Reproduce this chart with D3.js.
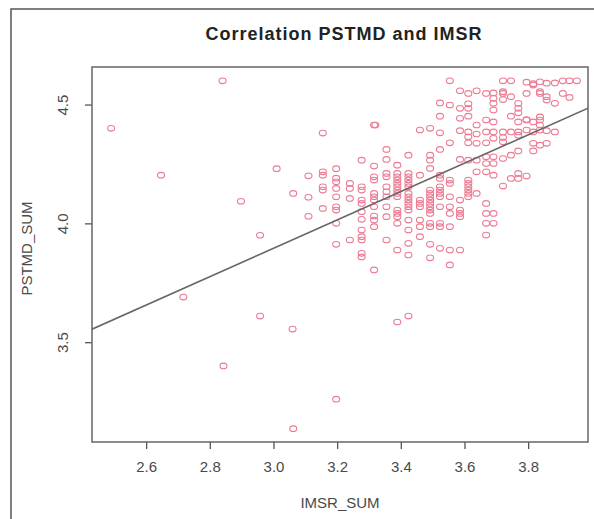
<!DOCTYPE html>
<meta charset="utf-8">
<style>
body { margin: 0; background: #fff; }
text { font-family: "Liberation Sans", Arial, sans-serif; fill: #4a4a4a; }
.title { font-weight: bold; fill: #222; }
.pt { fill: none; stroke: #ec7b92; stroke-width: 1.1; }
.fit { fill: none; stroke: #666; stroke-width: 1.6px; }
</style>
<svg width="594" height="519"></svg>
<script src="https://d3js.org/d3.v7.min.js"></script>
<script>

// scattered single points
var outlierImsr  = [2.49, 2.84, 2.647, 2.898, 3.01, 2.958, 2.717, 2.958, 3.06, 2.843, 3.062, 3.197, 3.389, 3.424, 3.062, 3.32];
var outlierPstmd = [4.40, 4.60, 4.203, 4.093, 4.23, 3.95, 3.69, 3.61, 3.555, 3.40, 3.136, 3.26, 3.585, 3.61, 4.126, 4.414];

// IMSR_SUM levels and the PSTMD_SUM values seen at each level
var imsrLevels = [3.11, 3.155, 3.197, 3.24, 3.277, 3.316, 3.355, 3.389, 3.424, 3.46, 3.492, 3.523, 3.554, 3.586,
                  3.612, 3.638, 3.668, 3.691, 3.721, 3.746, 3.769, 3.795, 3.816, 3.837, 3.858, 3.884, 3.909, 3.93, 3.953];
var pstmdByLevel = [
  [4.20, 4.11, 4.03],
  [4.38, 4.217, 4.203, 4.154, 4.14, 4.063],
  [4.23, 4.19, 4.175, 4.147, 4.112, 4.07, 4.056, 4.00, 3.912],
  [4.168, 4.147, 4.105, 3.93],
  [4.266, 4.154, 4.14, 4.098, 4.084, 4.049, 4.017, 3.972, 3.944, 3.93, 3.874, 3.859],
  [4.414, 4.241, 4.196, 4.182, 4.126, 4.112, 4.098, 4.07, 4.031, 4.014, 3.986, 3.804],
  [4.311, 4.269, 4.21, 4.196, 4.154, 4.133, 4.112, 4.07, 4.028, 3.93],
  [4.245, 4.21, 4.196, 4.182, 4.168, 4.154, 4.14, 4.126, 4.112, 4.056, 4.042, 4.028, 4.0, 3.888],
  [4.287, 4.21, 4.196, 4.182, 4.168, 4.154, 4.126, 4.112, 4.098, 4.084, 4.07, 4.056, 4.014, 3.972, 3.916, 3.867],
  [4.393, 4.203, 4.098, 4.084, 4.07, 4.014, 3.986, 3.944],
  [4.40, 4.287, 4.266, 4.231, 4.14, 4.126, 4.112, 4.098, 4.084, 4.07, 4.056, 4.042, 4.0, 3.986, 3.912, 3.855],
  [4.507, 4.451, 4.381, 4.311, 4.203, 4.189, 4.154, 4.14, 4.126, 4.112, 4.07, 4.0, 3.986, 3.895],
  [4.60, 4.498, 4.339, 4.182, 4.168, 4.112, 4.07, 4.042, 3.986, 3.888, 3.825],
  [4.558, 4.484, 4.442, 4.39, 4.269, 4.098, 4.056, 4.042, 4.028, 3.888],
  [4.547, 4.503, 4.484, 4.451, 4.385, 4.364, 4.339, 4.266, 4.182, 4.168, 4.154, 4.14, 4.126, 4.112],
  [4.558, 4.414, 4.376, 4.337, 4.266, 4.217, 4.126],
  [4.547, 4.435, 4.385, 4.339, 4.28, 4.252, 4.217, 4.084, 4.042, 4.0, 3.951],
  [4.549, 4.526, 4.505, 4.477, 4.427, 4.385, 4.358, 4.28, 4.252, 4.203, 4.042, 4.0],
  [4.60, 4.554, 4.547, 4.521, 4.385, 4.361, 4.343, 4.273, 4.157],
  [4.60, 4.533, 4.451, 4.385, 4.287, 4.189],
  [4.505, 4.484, 4.465, 4.427, 4.385, 4.371, 4.305, 4.21, 4.189],
  [4.594, 4.547, 4.437, 4.435, 4.393, 4.199],
  [4.588, 4.582, 4.427, 4.385, 4.337, 4.305],
  [4.596, 4.554, 4.448, 4.435, 4.414, 4.393, 4.329, 4.547],
  [4.59, 4.533, 4.519, 4.39, 4.337],
  [4.591, 4.505, 4.385],
  [4.60, 4.547],
  [4.60, 4.53],
  [4.60]
];

// fitted line PSTMD = a + b * IMSR
var fitIntercept = 2.104, fitSlope = 0.597;

var xTicks = [2.6, 2.8, 3.0, 3.2, 3.4, 3.6, 3.8];
var yTicks = [3.5, 4.0, 4.5];

var points = [];
outlierImsr.forEach(function(v, i) { points.push({imsr: v, pstmd: outlierPstmd[i]}); });
imsrLevels.forEach(function(v, i) {
  pstmdByLevel[i].forEach(function(p) { points.push({imsr: v, pstmd: p}); });
});

var svg = d3.select("svg"),
    box = {left: 92, right: 588, top: 67, bottom: 442};

var x = d3.scaleLinear().domain([2.430, 3.988]).range([box.left, box.right]);
var y = d3.scaleLinear().domain([3.080, 4.658]).range([box.bottom, box.top]);

// outer frame of the figure
svg.append("rect")
    .attr("x", 11).attr("y", 9).attr("width", 640).attr("height", 560)
    .attr("fill", "none").attr("stroke", "#555").attr("stroke-width", 1.5);

svg.append("clipPath").attr("id", "plotclip")
  .append("rect")
    .attr("x", box.left).attr("y", box.top)
    .attr("width", box.right - box.left).attr("height", box.bottom - box.top);

var xAxis = svg.append("g")
    .attr("transform", "translate(0," + box.bottom + ")")
    .call(d3.axisBottom(x).tickValues(xTicks).tickSize(7).tickPadding(12).tickFormat(d3.format(".1f")));
xAxis.select(".domain").remove();
xAxis.selectAll("line").attr("stroke", "#555").attr("stroke-width", 1.3);
xAxis.selectAll("text").attr("fill", "#4a4a4a").style("font-size", "15px")
    .style("font-family", "'Liberation Sans', Arial, sans-serif");

var yAxis = svg.append("g")
    .attr("transform", "translate(" + box.left + ",0)")
    .call(d3.axisLeft(y).tickValues(yTicks).tickSize(7).tickFormat(d3.format(".1f")));
yAxis.select(".domain").remove();
yAxis.selectAll("line").attr("stroke", "#555").attr("stroke-width", 1.3);
yAxis.selectAll("text")
    .attr("fill", "#4a4a4a")
    .style("font-size", "15px")
    .style("font-family", "'Liberation Sans', Arial, sans-serif")
    .attr("text-anchor", "middle")
    .attr("x", null)
    .attr("transform", "translate(-29,0) rotate(-90)")
    .attr("dy", "0.35em");

svg.append("g").attr("clip-path", "url(#plotclip)")
  .selectAll("ellipse")
  .data(points)
  .enter().append("ellipse")
    .attr("class", "pt")
    .attr("cx", function(d) { return x(d.imsr); })
    .attr("cy", function(d) { return y(d.pstmd); })
    .attr("rx", 3.5)
    .attr("ry", 2.8);

svg.append("path")
    .datum(x.domain())
    .attr("class", "fit")
    .attr("clip-path", "url(#plotclip)")
    .attr("d", d3.line()
        .x(function(d) { return x(d); })
        .y(function(d) { return y(fitIntercept + fitSlope * d); }));

svg.append("rect")
    .attr("x", box.left).attr("y", box.top)
    .attr("width", box.right - box.left).attr("height", box.bottom - box.top)
    .attr("fill", "none").attr("stroke", "#666").attr("stroke-width", 1.5);

svg.append("text")
    .attr("class", "title")
    .attr("x", 344).attr("y", 40)
    .attr("text-anchor", "middle")
    .style("font-size", "18px")
    .style("letter-spacing", "1px")
    .text("Correlation PSTMD and IMSR");

svg.append("text")
    .attr("x", (box.left + box.right) / 2).attr("y", 508)
    .attr("text-anchor", "middle")
    .style("font-size", "15px")
    .text("IMSR_SUM");

svg.append("text")
    .attr("transform", "translate(32," + ((box.top + box.bottom) / 2 - 6) + ") rotate(-90)")
    .attr("text-anchor", "middle")
    .style("font-size", "15px")
    .text("PSTMD_SUM");

</script>
